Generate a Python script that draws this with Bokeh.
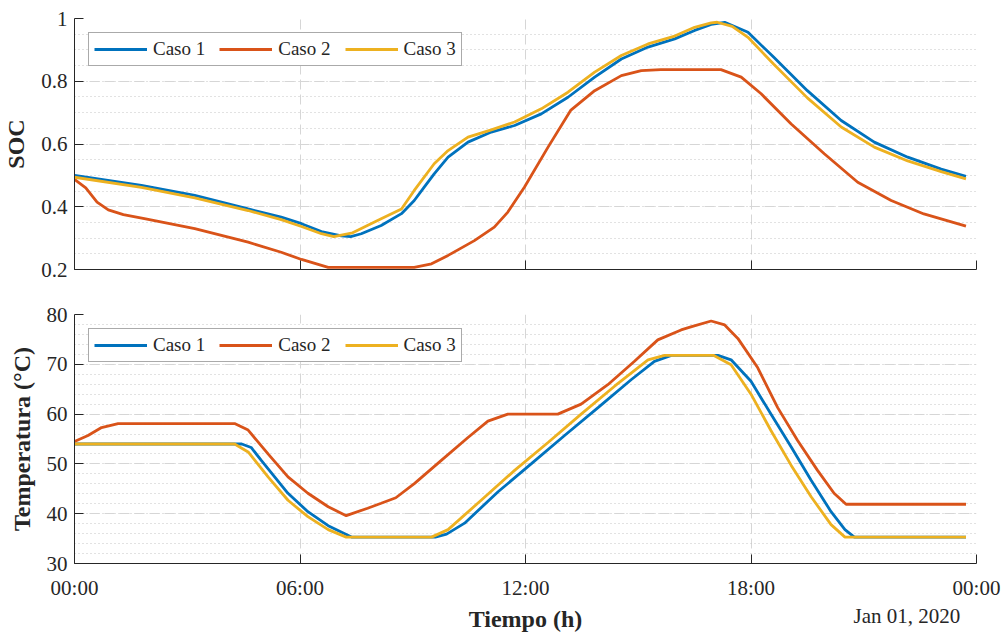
import numpy as np
from bokeh.plotting import figure
from bokeh.layouts import column
from bokeh.models import FixedTicker, NumeralTickFormatter, Label, Range1d
from bokeh.embed import file_html
from bokeh.resources import INLINE

# ---------------- data (hours of day, values) ----------------
series_names = ["Caso 1", "Caso 2", "Caso 3"]

soc_c1_h = [0, 1.78, 3.2, 4.62, 5.5, 6.04, 6.57, 7.1, 7.35, 7.63, 8.16, 8.7, 9.04, 9.3, 9.57, 9.94,
            10.47, 11.09, 11.71, 12.42, 13.13, 13.84, 14.55, 15.26, 15.97, 16.5, 16.94, 17.3,
            17.92, 18.6, 19.5, 20.4, 21.28, 22.17, 23.06, 23.72]
soc_c1_v = [0.50, 0.468, 0.436, 0.393, 0.367, 0.346, 0.321, 0.307, 0.305, 0.314, 0.34, 0.378, 0.42, 0.462, 0.505, 0.558,
            0.606, 0.638, 0.659, 0.696, 0.749, 0.813, 0.871, 0.909, 0.935, 0.962, 0.981, 0.988,
            0.956, 0.877, 0.77, 0.675, 0.606, 0.558, 0.52, 0.497]

soc_c2_h = [0, 0.3, 0.6, 0.9, 1.3, 1.86, 3.2, 4.62, 5.5, 6.04, 6.75, 9.04, 9.5, 9.94, 10.64, 11.17,
            11.53, 11.97, 12.6, 13.2, 13.84, 14.55, 15.08, 15.6, 17.2, 17.74, 18.27, 19.07, 19.95,
            20.84, 21.73, 22.6, 23.72]
soc_c2_v = [0.487, 0.46, 0.415, 0.39, 0.375, 0.362, 0.33, 0.287, 0.255, 0.232, 0.207, 0.207, 0.218, 0.245, 0.292, 0.335,
            0.383, 0.462, 0.59, 0.707, 0.77, 0.818, 0.834, 0.837, 0.837, 0.813, 0.76, 0.664, 0.569,
            0.478, 0.42, 0.377, 0.338]

soc_c3_h = [0, 1.78, 3.2, 4.62, 5.5, 6.04, 6.57, 6.9, 7.4, 8.16, 8.7, 9.04, 9.57, 9.94, 10.47, 11.09,
            11.71, 12.42, 13.13, 13.84, 14.55, 15.26, 15.97, 16.5, 16.94, 17.1, 17.5, 17.92, 18.6,
            19.5, 20.4, 21.28, 22.17, 23.06, 23.72]
soc_c3_v = [0.494, 0.462, 0.428, 0.388, 0.359, 0.337, 0.314, 0.305, 0.317, 0.362, 0.393, 0.452, 0.537, 0.579, 0.622, 0.645,
            0.67, 0.712, 0.765, 0.829, 0.882, 0.919, 0.944, 0.972, 0.986, 0.988, 0.975, 0.94, 0.855,
            0.747, 0.654, 0.59, 0.546, 0.512, 0.489]

tmp_c1_h = [0, 4.45, 4.7, 4.97, 5.68, 6.21, 6.75, 7.37, 9.6, 9.9, 10.38, 11.27, 12.15, 13.04, 13.93,
            14.81, 15.43, 15.88, 17.12, 17.47, 18.0, 18.53, 19.07, 19.6, 20.13, 20.5, 20.75, 23.72]
tmp_c1_v = [54.0, 54.0, 53.3, 50.7, 44.1, 40.4, 37.6, 35.3, 35.3, 35.9, 38.1, 44.4, 50.0, 55.7, 61.3,
            66.9, 70.6, 71.8, 71.8, 70.9, 66.6, 60.0, 53.4, 46.7, 40.4, 36.8, 35.3, 35.3]

tmp_c2_h = [0, 0.36, 0.72, 1.16, 4.26, 4.62, 5.15, 5.68, 6.21, 6.75, 7.23, 7.8, 8.16, 8.55, 9.05, 9.76,
            10.47, 11.0, 11.53, 12.86, 13.48, 14.19, 14.9, 15.52, 16.14, 16.4, 16.94, 17.3, 17.65,
            18.18, 18.71, 19.24, 19.77, 20.21, 20.53, 23.72]
tmp_c2_v = [54.5, 55.7, 57.3, 58.1, 58.1, 56.8, 52.0, 47.4, 44.1, 41.4, 39.6, 41.1, 42.1, 43.2, 46.1, 50.7,
            55.3, 58.6, 60.0, 60.0, 62.0, 65.9, 70.6, 74.9, 76.9, 77.5, 78.7, 77.9, 75.2,
            69.3, 61.3, 54.7, 48.7, 44.1, 41.9, 41.9]

tmp_c3_h = [0, 4.26, 4.62, 5.15, 5.68, 6.21, 6.75, 7.23, 9.5, 9.94, 10.82, 11.71, 12.6, 13.48, 14.37,
            15.26, 15.7, 17.0, 17.47, 18.0, 18.53, 19.07, 19.6, 20.13, 20.5, 23.72]
tmp_c3_v = [54.0, 54.0, 52.4, 47.4, 42.7, 39.4, 36.8, 35.3, 35.3, 36.8, 42.7, 48.7, 54.3, 60.0, 65.6,
            70.9, 71.8, 71.8, 69.9, 64.0, 56.7, 49.7, 43.4, 37.8, 35.3, 35.3]

x_ticks = [0, 6, 12, 18, 24]
x_tick_labels = ["00:00", "06:00", "12:00", "18:00", "00:00"]
soc_ticks = [0.2, 0.4, 0.6, 0.8, 1.0]
tmp_ticks = [30, 40, 50, 60, 70, 80]
x_title = "Tiempo (h)"
date_label = "Jan 01, 2020"

# ---------------- style ----------------
FONT = "Liberation Serif"
COLORS = ["#0072BD", "#D95319", "#EDB120"]
AX = "#262626"


def style(p, y_ticks, y_minor, y_label, show_x_labels):
    p.outline_line_color = None
    p.background_fill_color = "white"
    p.border_fill_color = "white"
    p.xaxis.ticker = FixedTicker(ticks=x_ticks)
    p.yaxis.ticker = FixedTicker(ticks=y_ticks, minor_ticks=y_minor)
    p.xgrid.ticker = FixedTicker(ticks=x_ticks)
    p.ygrid.ticker = FixedTicker(ticks=y_ticks, minor_ticks=y_minor)
    for ax in (p.xaxis[0], p.yaxis[0]):
        ax.axis_line_color = AX
        ax.axis_line_width = 1
        ax.major_tick_line_color = AX
        ax.major_tick_in = 9
        ax.major_tick_out = 0
        ax.minor_tick_in = 0
        ax.minor_tick_out = 0
        ax.major_label_text_font = FONT
        ax.major_label_text_font_size = "21px"
        ax.major_label_text_color = AX
        ax.axis_label_text_font = FONT
        ax.axis_label_text_font_size = "24px"
        ax.axis_label_text_font_style = "bold"
        ax.axis_label_text_color = AX
    p.yaxis.major_label_standoff = 7
    p.yaxis.axis_label = y_label
    p.yaxis.axis_label_standoff = 9
    if show_x_labels:
        p.xaxis.major_label_overrides = {t: l for t, l in zip(x_ticks, x_tick_labels)}
        p.xaxis.major_label_standoff = 12
    else:
        p.xaxis.major_label_overrides = {t: "" for t in x_ticks}
        p.xaxis.major_label_standoff = 0
    for g in (p.xgrid[0], p.ygrid[0]):
        g.grid_line_color = "#d6d6d6"
        g.grid_line_dash = "10 5"
        g.grid_line_width = 1
    p.ygrid.minor_grid_line_color = "#c4c4c4"
    p.ygrid.minor_grid_line_dash = "1 3"
    p.ygrid.minor_grid_line_width = 1

    lg = p.legend[0]
    lg.orientation = "horizontal"
    lg.location = "top_left"
    lg.margin = 14
    lg.padding = 5
    lg.spacing = 14
    lg.glyph_width = 53
    lg.glyph_height = 18
    lg.label_standoff = 6
    lg.label_height = 18
    lg.label_text_font = FONT
    lg.label_text_font_size = "19px"
    lg.label_text_color = AX
    lg.border_line_color = "#555555"
    lg.border_line_width = 1
    lg.background_fill_alpha = 1
    lg.background_fill_color = "white"


# ---------------- top: SOC ----------------
p1 = figure(width=1003, height=290, output_backend="svg", toolbar_location=None,
            x_range=Range1d(0, 24), y_range=Range1d(0.2, 1.0),
            min_border_left=73, min_border_right=27, min_border_top=18, min_border_bottom=21)
for name, hh, vv, c in zip(series_names,
                           [soc_c1_h, soc_c2_h, soc_c3_h],
                           [soc_c1_v, soc_c2_v, soc_c3_v], COLORS):
    p1.line(hh, vv, line_color=c, line_width=2.8, legend_label=name)
soc_minor = [round(v, 2) for v in np.arange(0.2, 1.0001, 0.05)]
style(p1, soc_ticks, soc_minor, "SOC", False)
p1.yaxis.formatter = NumeralTickFormatter(format="0.[0]")

# ---------------- bottom: temperature ----------------
p2 = figure(width=1003, height=312, output_backend="svg", toolbar_location=None,
            x_range=Range1d(0, 24), y_range=Range1d(30, 80),
            min_border_left=73, min_border_right=27, min_border_top=24, min_border_bottom=36)
for name, hh, vv, c in zip(series_names,
                           [tmp_c1_h, tmp_c2_h, tmp_c3_h],
                           [tmp_c1_v, tmp_c2_v, tmp_c3_v], COLORS):
    p2.line(hh, vv, line_color=c, line_width=2.8, legend_label=name)
tmp_minor = list(np.arange(30, 80.001, 2.0))
style(p2, tmp_ticks, tmp_minor, "Temperatura (°C)", True)

# ---------------- strip under the axes: x title and date ----------------
p3 = figure(width=1003, height=30, output_backend="svg", toolbar_location=None,
            x_range=p2.x_range, y_range=Range1d(0, 30),
            x_axis_location=None, y_axis_location=None,
            min_border_left=73, min_border_right=27, min_border_top=0, min_border_bottom=0)
p3.outline_line_color = None
p3.xgrid.visible = False
p3.ygrid.visible = False
p3.add_layout(Label(x=12, y=13.5, text=x_title, text_font=FONT, text_font_size="24px",
                    text_font_style="bold", text_color=AX,
                    text_align="center", text_baseline="middle"))
p3.add_layout(Label(x=22.15, y=17, text=date_label, text_font=FONT, text_font_size="21px",
                    text_color=AX, text_align="center", text_baseline="middle"))

layout = column(p1, p2, p3, spacing=0)
open("out.html", "w").write(file_html(layout, INLINE))
